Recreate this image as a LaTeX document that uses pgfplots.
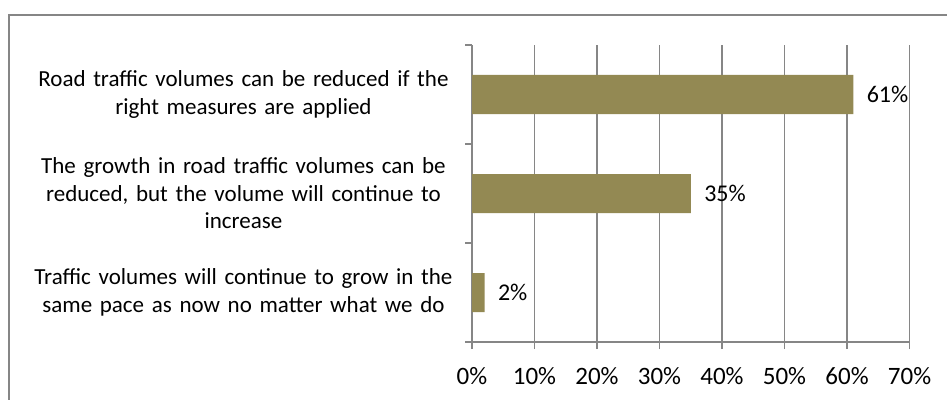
\documentclass[border=0pt]{standalone}
\usepackage{fontspec}
\setmainfont{Carlito}
\usepackage{pgfplots}
\pgfplotsset{compat=1.18}
\definecolor{barolive}{RGB}{147,137,83}
\definecolor{gridgray}{RGB}{134,134,134}
\begin{document}
\begin{tikzpicture}
\useasboundingbox (0pt,0pt) rectangle (947pt,399pt);
% outer chart frame (cut off at right and bottom)
\draw[gridgray, line width=1.5pt] (9pt,-10pt) -- (9pt,384pt) -- (960pt,384pt);
\begin{axis}[
    at={(472pt,57pt)}, anchor=south west,
    scale only axis,
    width=437.5pt, height=297pt,
    xbar, bar width=39pt,
    xmin=0, xmax=70,
    ymin=-0.5, ymax=2.5,
    axis x line=bottom, axis y line=left,
    axis line style={gridgray, line width=1.3pt, -},
    tick align=outside,
    major tick length=7pt,
    tick style={gridgray, line width=1.3pt},
    xtick={0,10,...,70},
    xticklabel={\pgfmathprintnumber{\tick}\%},
    /pgf/number format/assume math mode=true,
    xticklabel style={font=\fontsize{25}{30}\selectfont, yshift=-15pt},
    xmajorgrids,
    grid style={gridgray, line width=1.3pt},
    ytick={-0.5,0.5,1.5,2.5},
    yticklabels={},
    extra y ticks={0,1,2},
    extra y tick labels={
        {Traffic volumes will continue to grow in the\\same pace as now no matter what we do},
        {The growth in road traffic volumes can be\\reduced, but the volume will continue to\\increase},
        {Road traffic volumes can be reduced if the\\right measures are applied}},
    extra y tick style={major tick length=0pt, tick style={draw=none}},
    yticklabel style={font=\fontsize{23}{27.5}\selectfont, text width=430pt, align=center, anchor=east, xshift=-10pt},
    nodes near coords={\pgfmathprintnumber{\pgfplotspointmeta}\%},
    point meta=x,
    every node near coord/.append style={font=\fontsize{24}{29}\selectfont, anchor=west, xshift=10pt, text=black},
    clip=false,
]
\addplot[fill=barolive, draw=none] coordinates {(2,0) (35,1) (61,2)};
\end{axis}
\end{tikzpicture}
\end{document}
